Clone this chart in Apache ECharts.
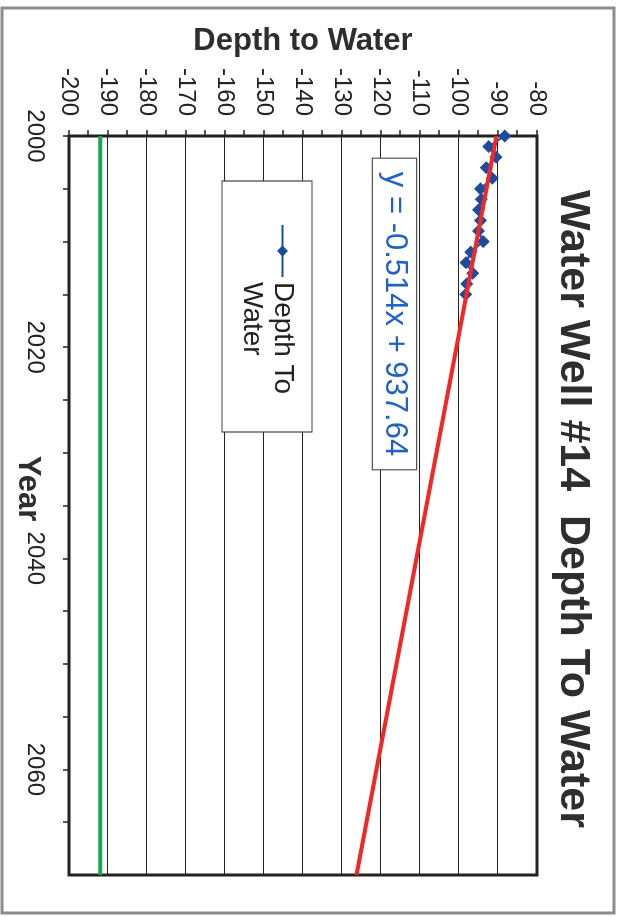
<!DOCTYPE html>
<html>
<head>
<meta charset="utf-8">
<script src="https://cdn.jsdelivr.net/npm/echarts@6/dist/echarts.min.js"></script>
<style>
  html, body { margin: 0; padding: 0; background: #fff; overflow: hidden; }
  /* chart is drawn landscape, then turned a quarter clockwise like the scan */
  #chart {
    position: absolute; left: 0; top: 0;
    width: 917px; height: 623px;
    transform-origin: 0 0;
    transform: translate(623px, 0) rotate(90deg);
  }
</style>
</head>
<body>
<div id="chart"></div>
<script>
// measured data: yearly depth readings
var years = [2000, 2001, 2002, 2003, 2004, 2005, 2006, 2007, 2008, 2009, 2010, 2011, 2012, 2013, 2014, 2015];
var depthToWater = [-88.3, -92.4, -90.5, -93.0, -91.5, -94.5, -94.3, -95.0, -94.5, -95.0, -93.8, -97.0, -98.2, -96.5, -98.0, -98.3];

// trend line ends (y = -0.514x + 937.64) and the green limit line
var trendYears = [2000, 2070];
var trendDepth = [-90.4, -126.3];
var limitYears = [2000, 2070];
var limitDepth = [-192, -192];

var yearLabels = [2000, 2020, 2040, 2060];
var seriesName = 'Depth To\nWater';

var font = '"Liberation Sans", Arial, sans-serif';

function pairs(xs, ys) {
  return xs.map(function (x, i) { return [x, ys[i]]; });
}

var chart = echarts.init(document.getElementById('chart'));

var option = {
  backgroundColor: '#fff',
  animation: false,
  textStyle: { fontFamily: font },
  title: {
    text: 'Water Well #14  Depth To Water',
    left: 190,
    top: 29,
    padding: 0,
    textStyle: { fontFamily: font, fontSize: 43, fontWeight: 'bold', color: '#2e2e2e' }
  },
  grid: {
    left: 136, right: 42, top: 86, bottom: 69,
    show: true,
    borderColor: '#222',
    borderWidth: 3,
    containLabel: false,
    outerBoundsMode: 'none'
  },
  legend: {
    data: [seriesName],
    left: 224,
    top: 294,
    padding: 0,
    itemWidth: 52,
    itemHeight: 14,
    itemGap: 0,
    z: 5,
    // blank first line keeps the symbol level with "Depth To"
    formatter: function (name) { return '\u00a0\n' + name; },
    textStyle: { fontFamily: font, fontSize: 28, lineHeight: 31, color: '#222' }
  },
  xAxis: {
    type: 'value',
    name: 'Year',
    nameLocation: 'middle',
    nameGap: 26,
    nameMoveOverlap: false,
    nameTextStyle: {
      fontFamily: font, fontSize: 31, fontWeight: 'bold', color: '#2e2e2e',
      padding: [0, 34, 0, 0]
    },
    min: 2000, max: 2070, interval: 5,
    axisLine: { show: false },
    axisTick: { show: true, length: 6, lineStyle: { color: '#222', width: 1.5 } },
    axisLabel: {
      margin: 22,
      fontSize: 24, color: '#222',
      showMaxLabel: false,
      formatter: function (v) { return yearLabels.indexOf(v) >= 0 ? String(v) : ''; }
    },
    splitLine: { show: false }
  },
  yAxis: {
    type: 'value',
    name: 'Depth to Water',
    nameLocation: 'middle',
    nameGap: 79,
    nameRotate: 90,
    nameMoveOverlap: false,
    nameTextStyle: { fontFamily: font, fontSize: 31, fontWeight: 'bold', color: '#2e2e2e' },
    min: -200, max: -80, interval: 10,
    axisLine: { show: false },
    axisTick: { show: true, length: 6, lineStyle: { color: '#222', width: 1.5 } },
    minorTick: { show: true, splitNumber: 2, length: 6, lineStyle: { color: '#222', width: 1.5 } },
    axisLabel: { margin: 20, fontSize: 24, color: '#222' },
    splitLine: { show: true, lineStyle: { color: '#222', width: 1.2 } }
  },
  graphic: [
    {
      // outer scan frame
      type: 'rect', z: 0,
      shape: { x: 8, y: 9, width: 905, height: 612 },
      style: { fill: 'none', stroke: '#8c8c8c', lineWidth: 3 }
    },
    {
      // legend box
      type: 'rect', z: 3,
      shape: { x: 181, y: 311, width: 251, height: 90 },
      style: { fill: '#fff', stroke: '#444', lineWidth: 1.2 }
    },
    {
      type: 'text', z: 5,
      x: 314, y: 228.5,
      style: {
        text: 'y = -0.514x + 937.64',
        fontFamily: font, fontSize: 31, fill: '#1f62c4',
        align: 'center', verticalAlign: 'middle',
        backgroundColor: '#fff', borderColor: '#555', borderWidth: 1.2,
        padding: [6, 13, 6, 13]
      }
    }
  ],
  series: [
    {
      name: 'limit',
      type: 'line',
      data: pairs(limitYears, limitDepth),
      showSymbol: false,
      lineStyle: { color: '#1aa550', width: 4 },
      z: 2
    },
    {
      name: seriesName,
      type: 'line',
      data: pairs(years, depthToWater),
      symbol: 'diamond',
      symbolSize: 13,
      itemStyle: { color: '#1e4c9c' },
      lineStyle: { color: '#1e4c9c', width: 2 },
      z: 3
    },
    {
      name: 'trend',
      type: 'line',
      data: pairs(trendYears, trendDepth),
      showSymbol: false,
      lineStyle: { color: '#f02828', width: 4 },
      z: 4
    }
  ]
};

chart.setOption(option);
</script>
</body>
</html>
